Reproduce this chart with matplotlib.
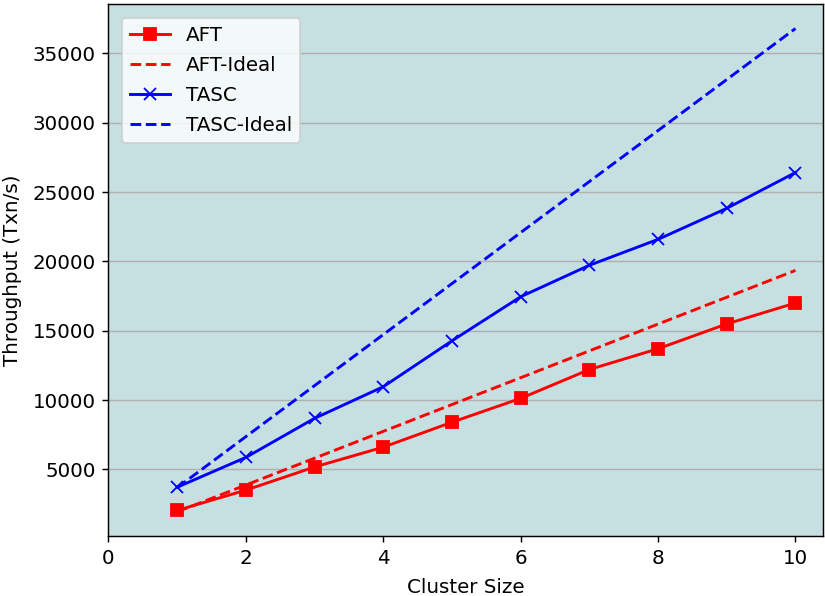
import matplotlib
matplotlib.use("Agg")
import matplotlib.pyplot as plt

cluster_sizes = [1, 2, 3, 4, 5, 6, 7, 8, 9, 10]
aft = [2040, 3500, 5170, 6600, 8400, 10120, 12200, 13700, 15490, 17000]
aft_ideal = [1935, 3870, 5805, 7740, 9675, 11610, 13545, 15480, 17415, 19350]
tasc = [3710, 5860, 8680, 10960, 14270, 17450, 19720, 21590, 23830, 26410]
tasc_ideal = [3680, 7360, 11040, 14720, 18400, 22080, 25760, 29440, 33120, 36800]

DPI = 130
plt.rcParams['font.size'] = 11
fig = plt.figure(figsize=(825 / DPI, 596 / DPI), dpi=DPI)
ax = fig.add_axes([0.1315, 0.1007, 0.866, 0.892])
ax.set_facecolor('#c6e0e1')

lw = 1.6
ax.plot(cluster_sizes, aft, color='red', marker='s', markersize=7, linewidth=lw, label='AFT')
ax.plot(cluster_sizes, aft_ideal, color='red', linestyle='--', linewidth=lw, label='AFT-Ideal')
ax.plot(cluster_sizes, tasc, color='blue', marker='x', markersize=7, linewidth=lw, label='TASC')
ax.plot(cluster_sizes, tasc_ideal, color='blue', linestyle='--', linewidth=lw, label='TASC-Ideal')

ax.set_xlim(0, 10.4)
ax.grid(axis='y', color='#b0b0b0')
ax.set_axisbelow(True)
ax.set_xlabel('Cluster Size', labelpad=6)
ax.set_ylabel('Throughput (Txn/s)', labelpad=6)
ax.legend(loc='upper left', borderaxespad=0.7, labelspacing=0.55)

fig.savefig('out.png', dpi=DPI)
